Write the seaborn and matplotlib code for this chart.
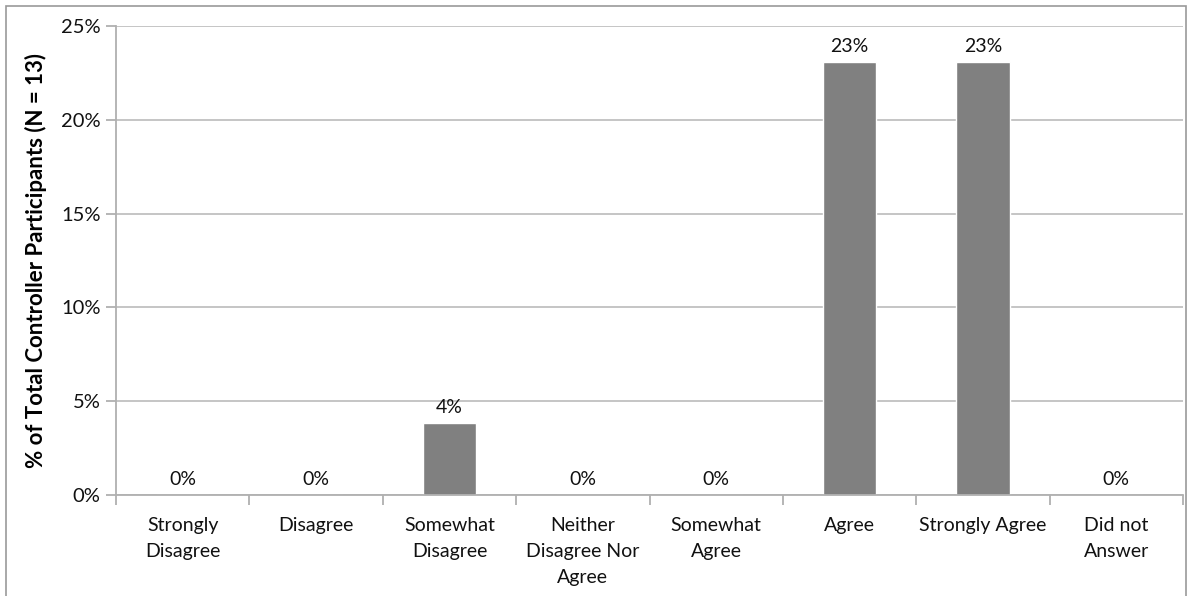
import matplotlib
matplotlib.use("Agg")
import matplotlib.pyplot as plt
import seaborn as sns
import pandas as pd
from matplotlib.patches import Rectangle
from matplotlib.ticker import FuncFormatter, FixedLocator

categories = ["Strongly\nDisagree", "Disagree", "Somewhat\nDisagree", "Neither\nDisagree Nor\nAgree",
              "Somewhat\nAgree", "Agree", "Strongly Agree", "Did not\nAnswer"]
values = [0.0, 0.0, 3.85, 0.0, 0.0, 23.08, 23.08, 0.0]
y_ticks = [0, 5, 10, 15, 20, 25]
y_label = "% of Total Controller Participants (N = 13)"

sns.set_theme(style="white")
plt.rcParams['font.family'] = ['Lato', 'DejaVu Sans']

df = pd.DataFrame({"cat": categories, "val": values})

fig = plt.figure(figsize=(11.89, 5.96), dpi=100)
ax = fig.add_axes([116/1189, 1-495/596, (1183-116)/1189, (495-26)/596])

sns.barplot(data=df, x="cat", y="val", color="#808080", width=0.4, saturation=1, ax=ax)

for c in ax.containers:
    ax.bar_label(c, labels=[f"{v:.0f}%" for v in values], padding=5, fontsize=14, color="#111111")

ax.set_ylim(0, 25)
ax.set_xlim(-0.5, len(categories) - 0.5)
ax.set_yticks(y_ticks)
ax.yaxis.set_major_formatter(FuncFormatter(lambda v, p: f"{v:.0f}%"))
ax.yaxis.grid(True, color="#c0c0c0", linewidth=1.3)
ax.set_axisbelow(True)

for s in ["top", "right"]:
    ax.spines[s].set_visible(False)
for s in ["left", "bottom"]:
    ax.spines[s].set_color("#b0b0b0")
    ax.spines[s].set_linewidth(1.3)

ax.tick_params(axis="y", which="major", left=True, length=7, color="#b0b0b0", width=1.3,
               labelsize=14.5, labelcolor="#111111", pad=4)
ax.tick_params(axis="x", which="major", bottom=False, labelsize=14, labelcolor="#111111", pad=10)
ax.set_xticks(range(len(categories)))
ax.set_xticklabels(categories, linespacing=1.65, va="top")
ax.xaxis.set_minor_locator(FixedLocator([i - 0.5 for i in range(len(categories) + 1)]))
ax.tick_params(axis="x", which="minor", bottom=True, length=7, color="#b0b0b0", width=1.3)

ax.set_xlabel("")
ax.set_ylabel(y_label, fontsize=16, fontweight="bold", color="#000000", labelpad=10)

fig.patches.append(Rectangle((6/1189, -0.01), (1186-6)/1189, 1.01 - 6/596,
                             transform=fig.transFigure, fill=False, edgecolor="#999999",
                             linewidth=1.2, zorder=-1))

fig.savefig("out.png", dpi=100)
